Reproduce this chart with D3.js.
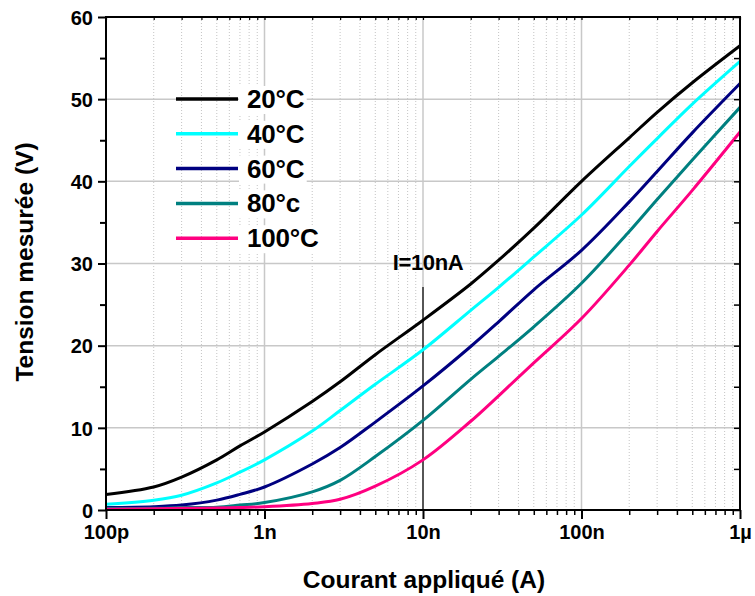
<!DOCTYPE html>
<html><head><meta charset="utf-8">
<script src="https://cdn.jsdelivr.net/npm/d3@7"></script>
<style>
body{margin:0;background:#fff;}
text{font-family:Arial,"Liberation Sans",sans-serif;font-weight:bold;}
</style></head><body>
<svg id="c" width="755" height="596"></svg>
<script>
const currents = [1e-10,2e-10,3e-10,5e-10,7e-10,1e-9,2e-9,3e-9,5e-9,1e-8,2e-8,3e-8,5e-8,1e-7,2e-7,3e-7,5e-7,1e-6];
const v20  = [1.9,2.8,4.0,6.1,7.8,9.5,13.2,15.6,18.9,23.1,27.5,30.4,34.3,40.0,45.3,48.4,52.0,56.5];
const v40  = [0.7,1.2,1.8,3.3,4.6,6.1,9.6,12.1,15.3,19.5,24.3,27.1,30.8,35.9,41.8,45.2,49.4,54.6];
const v60  = [0.3,0.4,0.6,1.2,1.9,2.8,5.6,7.6,10.7,15.1,19.9,22.9,26.8,31.6,37.5,41.2,45.9,51.9];
const v80  = [0.2,0.2,0.3,0.35,0.6,0.9,2.2,3.6,6.5,10.9,15.9,18.7,22.3,27.6,33.9,37.8,42.6,49.0];
const v100 = [0.1,0.15,0.2,0.25,0.3,0.4,0.8,1.3,2.9,6.1,10.8,13.9,17.9,23.3,29.8,33.9,38.9,46.0];
const seriesNames = ["20°C","40°C","60°C","80°c","100°C"];
const seriesColors = ["#000000","#00ffff","#000080","#008080","#ff0080"];
const xTickValues = [1e-10,1e-9,1e-8,1e-7,1e-6];
const xTickLabels = ["100p","1n","10n","100n","1µ"];
const yTickValues = [0,10,20,30,40,50,60];
const markerCurrent = 1e-8;
const markerLabel = "I=10nA";

const seriesValues = [v20,v40,v60,v80,v100];
const svg = d3.select("#c");
const L=106,R=740,T=17,B=510;
const x = d3.scaleLog().domain([1e-10,1e-6]).range([L,R]);
const y = d3.scaleLinear().domain([0,60]).range([B,T]);
const FONT = "Arial, 'Liberation Sans', sans-serif";

const minorX=[];
for(let e=-10;e<-6;e++) for(let m=2;m<=9;m++) minorX.push(m*Math.pow(10,e));

const g = svg.append("g");
g.selectAll(".mg").data(minorX).enter().append("line")
 .attr("x1",d=>x(d)).attr("x2",d=>x(d)).attr("y1",T).attr("y2",B)
 .attr("stroke","#c4c4c4").attr("stroke-width",1).attr("stroke-dasharray","1,2");
g.selectAll(".gx").data(xTickValues.slice(1,-1)).enter().append("line")
 .attr("x1",d=>x(d)).attr("x2",d=>x(d)).attr("y1",T).attr("y2",B)
 .attr("stroke","#c8c8c8").attr("stroke-width",1.5);
g.selectAll(".gy").data(yTickValues.slice(1,-1)).enter().append("line")
 .attr("x1",L).attr("x2",R).attr("y1",d=>y(d)).attr("y2",d=>y(d))
 .attr("stroke","#c8c8c8").attr("stroke-width",1.5);

svg.append("line").attr("x1",x(markerCurrent)).attr("x2",x(markerCurrent))
 .attr("y1",287).attr("y2",B).attr("stroke","#000").attr("stroke-width",1.2);
svg.append("text").attr("x",x(markerCurrent)+5).attr("y",270).attr("text-anchor","middle")
 .attr("font-size",22).attr("letter-spacing",-0.4).text(markerLabel);

const line = d3.line().x((d,i)=>x(currents[i])).y(d=>y(d)).curve(d3.curveCatmullRom.alpha(0.5));
seriesValues.forEach((vals,k)=>{
  svg.append("path").datum(vals).attr("d",line).attr("fill","none")
   .attr("stroke",seriesColors[k]).attr("stroke-width",3);
});

const xAxis = d3.axisBottom(x).tickValues(xTickValues).tickFormat((d,i)=>xTickLabels[i]).tickSize(9).tickPadding(6);
const ax = svg.append("g").attr("transform",`translate(0,${B})`).call(xAxis);
ax.select(".domain").remove();
ax.selectAll("line").attr("stroke-width",2);
ax.selectAll("text").attr("font-size",20).attr("fill","#000").attr("font-family",FONT).attr("font-weight","bold");
const axm = svg.append("g").attr("transform",`translate(0,${B})`).call(d3.axisBottom(x).tickValues(minorX).tickFormat("").tickSize(5));
axm.select(".domain").remove(); axm.selectAll("line").attr("stroke-width",1.5);
const at = svg.append("g").attr("transform",`translate(0,${T})`).call(d3.axisBottom(x).tickValues(minorX.concat(xTickValues)).tickFormat("").tickSize(3));
at.select(".domain").remove(); at.selectAll("line").attr("stroke-width",1.2);

const yAxis = d3.axisLeft(y).tickValues(yTickValues).tickSize(8).tickPadding(5);
const ay = svg.append("g").attr("transform",`translate(${L},0)`).call(yAxis);
ay.select(".domain").remove();
ay.selectAll("line").attr("stroke-width",2);
ay.selectAll("text").attr("font-size",20).attr("fill","#000").attr("dy","0.36em").attr("font-family",FONT).attr("font-weight","bold");
const minorY=[5,15,25,35,45,55];
const aym = svg.append("g").attr("transform",`translate(${L},0)`).call(d3.axisLeft(y).tickValues(minorY).tickFormat("").tickSize(6));
aym.select(".domain").remove(); aym.selectAll("line").attr("stroke-width",2);
const ar = svg.append("g").attr("transform",`translate(${R},0)`).call(d3.axisLeft(y).tickValues(minorY.concat(yTickValues)).tickFormat("").tickSize(6));
ar.select(".domain").remove(); ar.selectAll("line").attr("stroke-width",1.5);

svg.append("rect").attr("x",L).attr("y",T).attr("width",R-L).attr("height",B-T)
 .attr("fill","none").attr("stroke","#000").attr("stroke-width",2);

seriesNames.forEach((n,k)=>{
  const yy = 99 + k*34.8;
  svg.append("line").attr("x1",176).attr("x2",238).attr("y1",yy).attr("y2",yy)
   .attr("stroke",seriesColors[k]).attr("stroke-width",3.5);
  const t = svg.append("text").attr("x",247).attr("y",yy+9).attr("font-size",26).attr("letter-spacing",-0.2).text(n);
  const bb = t.node().getBBox();
  svg.insert("rect",function(){return t.node();}).attr("x",bb.x-8).attr("y",bb.y+2).attr("width",bb.width+10).attr("height",bb.height-2).attr("fill","#fff");
});

svg.append("text").attr("x",424).attr("y",588).attr("text-anchor","middle").attr("font-size",24.5).text("Courant appliqué (A)");
svg.append("text").attr("transform","translate(33,262) rotate(-90)").attr("text-anchor","middle").attr("font-size",24.5).text("Tension mesurée (V)");
</script></body></html>
